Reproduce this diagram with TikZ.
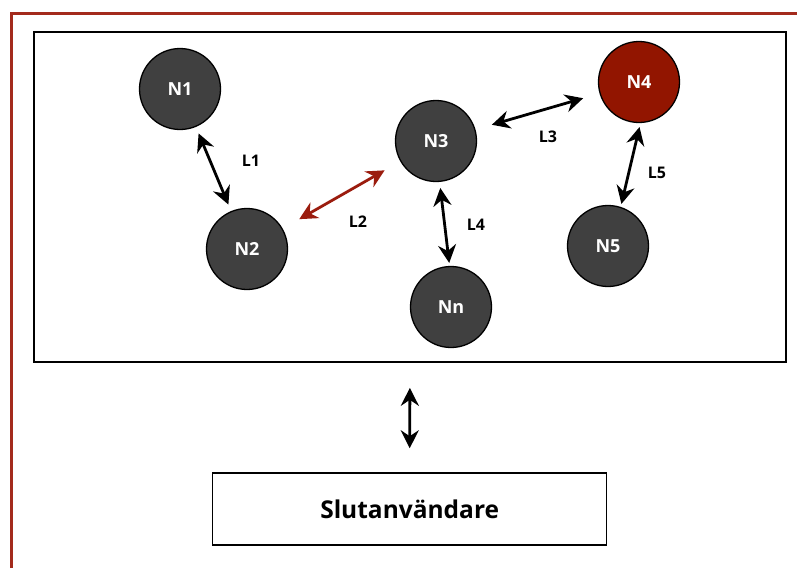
\documentclass[tikz,border=0pt]{standalone}
\usepackage{fontspec}
\setmainfont{Open Sans}
\usetikzlibrary{arrows.meta}
\definecolor{nodegray}{HTML}{404040}
\definecolor{hotred}{HTML}{921500}
\definecolor{linkred}{HTML}{9B1C0E}
\definecolor{framered}{HTML}{A32A1C}
\tikzset{
  netnode/.style={circle, draw=black, line width=1.3pt, fill=nodegray,
    minimum size=81pt, inner sep=0pt, text=white, font=\bfseries\fontsize{18}{22}\selectfont},
  hotnode/.style={netnode, fill=hotred},
  link/.style={line width=2.8pt, {Stealth[length=18pt,width=18pt,inset=6pt]}-{Stealth[length=18pt,width=18pt,inset=6pt]}},
  linklabel/.style={font=\bfseries\fontsize{16}{19}\selectfont},
  panel/.style={draw=black, line width=1.8pt, fill=white},
}
\begin{document}
\begin{tikzpicture}[x=1pt, y=-1pt]
\useasboundingbox (0,0) rectangle (797,568);
\fill[white] (0,0) rectangle (797,568);
% outer frame, open to the right and bottom
\draw[framered, line width=3pt] (11,568) -- (11,13) -- (797,13);
% network area
\node[panel, minimum width=752pt, minimum height=330pt, anchor=north west] (net) at (33,31) {};
% end user box
\node[draw=black, line width=1.5pt, minimum width=394pt, minimum height=72pt,
  font=\bfseries\fontsize{24.5}{30}\selectfont] (user) at (409.7,509) {Slutanvändare};
% nodes
\node[netnode] (N1) at (180,89) {N1};
\node[netnode] (N2) at (247,249) {N2};
\node[netnode] (N3) at (436,141) {N3};
\node[hotnode] (N4) at (639,82) {N4};
\node[netnode] (N5) at (608,246) {N5};
\node[netnode] (Nn) at (451,307) {Nn};
% links
\draw[link, shorten <=7pt, shorten >=7pt] (N1) -- (N2);
\draw[link, linkred, shorten <=19pt, shorten >=18pt] (N2) -- (N3);
\draw[link, shorten <=17pt, shorten >=17pt] (N3) -- (N4);
\draw[link, shorten <=6pt, shorten >=3pt] (N3.-85) -- (Nn.92);
\draw[link, shorten <=4pt, shorten >=3pt] (N4.-88) -- (N5.72);
\draw[link] ([yshift=-25pt]net.south) -- ([yshift=24pt]user.north);
% link labels
\node[linklabel] (l1) at (251,161) {L1};
\node[linklabel] (l2) at (358,222) {L2};
\node[linklabel] (l3) at (548,137) {L3};
\node[linklabel] (l4) at (476,225) {L4};
\node[linklabel] (l5) at (657,173) {L5};
\end{tikzpicture}
\end{document}
